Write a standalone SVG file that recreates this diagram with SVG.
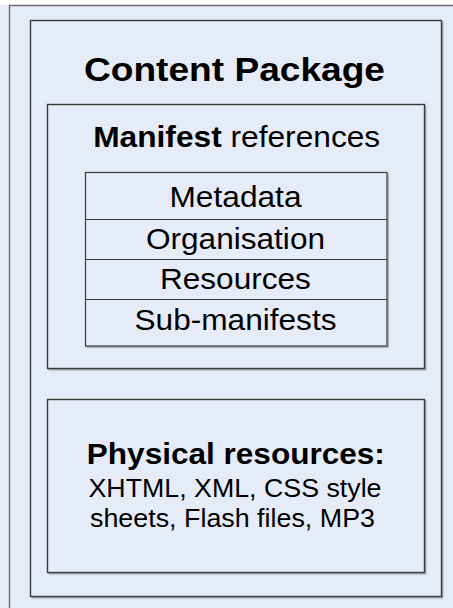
<svg xmlns="http://www.w3.org/2000/svg" width="453" height="608" viewBox="0 0 453 608">
<style>
.box{fill:#e6ecf7;stroke:#3a3a3a;stroke-width:1.4}
.sh{fill:none;stroke:#9a9ea6;stroke-width:1.2}
.cell{fill:#e6ecf7;stroke:#3a3a3a;stroke-width:1.2}
text{font-family:"Liberation Sans",Arial,sans-serif;fill:#000;text-anchor:middle}
.b{font-weight:bold}
</style>
<rect x="0" y="0" width="453" height="608" fill="#e6ecf7"/>
<rect x="0" y="0" width="453" height="5" fill="#ffffff"/>
<g id="outer-frame">
<path d="M9.5 608 V5.5 H453" fill="none" stroke="#6b6b6b" stroke-width="1.4"/>
</g>
<g id="content-package">
<path class="sh" d="M442.8 21.5 V597.8 H31.5"/>
<rect class="box" x="30.5" y="20.5" width="411" height="576"/>
<text class="b" x="234.5" y="81" font-size="33" textLength="301" lengthAdjust="spacingAndGlyphs">Content Package</text>
</g>
<g id="manifest">
<path class="sh" d="M425.8 105.5 V369.8 H48.5"/>
<rect class="box" x="47.5" y="104.5" width="377" height="264"/>
<text x="236.7" y="146.7" font-size="29.5" textLength="287" lengthAdjust="spacingAndGlyphs"><tspan class="b">Manifest</tspan> references</text>
</g>
<g id="manifest-table">
<path class="sh" d="M388.2 173.5 V347.2 H86.5"/>
<rect class="cell" x="85.5" y="172.5" width="301.5" height="173.5"/>
<line x1="85.5" y1="219.5" x2="387" y2="219.5" stroke="#3a3a3a" stroke-width="1.2"/>
<line x1="85.5" y1="259.5" x2="387" y2="259.5" stroke="#3a3a3a" stroke-width="1.2"/>
<line x1="85.5" y1="299.5" x2="387" y2="299.5" stroke="#3a3a3a" stroke-width="1.2"/>
<text x="235.5" y="207.3" font-size="29" textLength="132" lengthAdjust="spacingAndGlyphs">Metadata</text>
<text x="235.5" y="249" font-size="29" textLength="179" lengthAdjust="spacingAndGlyphs">Organisation</text>
<text x="235.4" y="289" font-size="29" textLength="151" lengthAdjust="spacingAndGlyphs">Resources</text>
<text x="235.5" y="330" font-size="29" textLength="202" lengthAdjust="spacingAndGlyphs">Sub-manifests</text>
</g>
<g id="physical-resources">
<path class="sh" d="M425.8 400.5 V573.8 H48.5"/>
<rect class="box" x="47.5" y="399.5" width="377" height="173"/>
<text class="b" x="235.8" y="463.5" font-size="29" textLength="298" lengthAdjust="spacingAndGlyphs">Physical resources:</text>
<text x="235" y="496.5" font-size="25.5" textLength="293" lengthAdjust="spacingAndGlyphs">XHTML, XML, CSS style</text>
<text x="232.5" y="526.5" font-size="25.5" textLength="285" lengthAdjust="spacingAndGlyphs">sheets, Flash files, MP3</text>
</g>
<g id="connectors"></g>
</svg>
